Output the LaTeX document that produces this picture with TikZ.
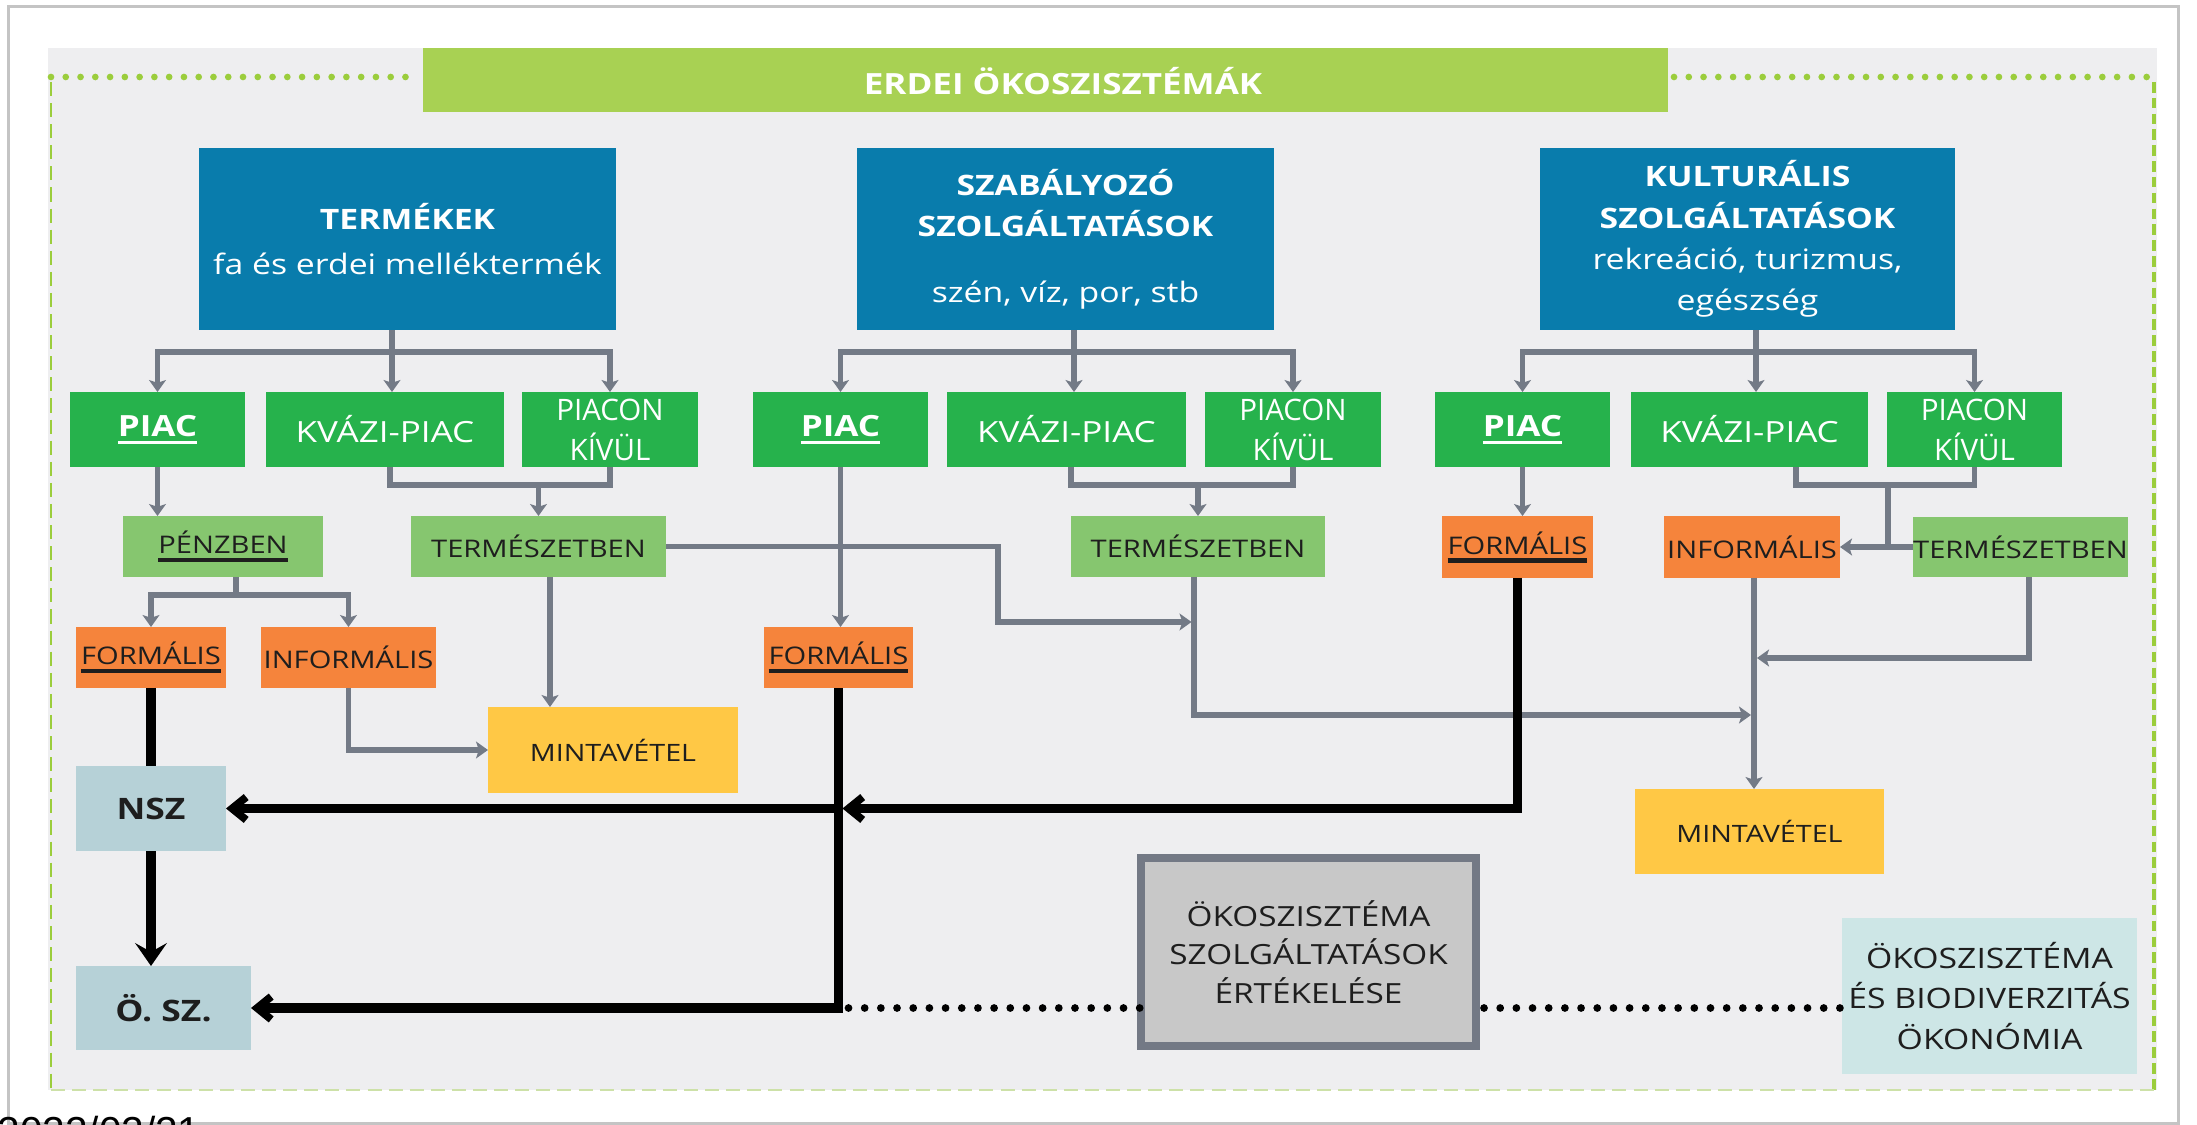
\documentclass[tikz,border=0pt]{standalone}
\usepackage{fontspec}
\setmainfont{Open Sans}[FakeStretch=1.2]
\newfontfamily\narrowfont{Open Sans}
\newfontfamily\datefont{Liberation Sans}
\usetikzlibrary{arrows.meta,calc}
\definecolor{cblue}{HTML}{097CAC}
\definecolor{cgreen}{HTML}{26B24C}
\definecolor{clight}{HTML}{86C66F}
\definecolor{corange}{HTML}{F5843C}
\definecolor{cyellow}{HTML}{FFC845}
\definecolor{cnsz}{HTML}{B6D1D7}
\definecolor{cbio}{HTML}{CDE6E6}
\definecolor{cgbox}{HTML}{C8C8C8}
\definecolor{cgborder}{HTML}{737985}
\definecolor{cline}{HTML}{737A86}
\definecolor{ctitle}{HTML}{A8D153}
\definecolor{cpanel}{HTML}{EEEEF0}
\definecolor{cdot}{HTML}{9BCD3C}
\definecolor{cframe}{HTML}{C4C4C4}
\definecolor{cdark}{HTML}{1E1E1E}
\newcommand\myul[3]{\setbox0\hbox{#3}\leavevmode\rlap{\rule[-#1]{\wd0}{#2}}\box0}
\tikzset{
  bx/.style={inner sep=0pt, outer sep=0pt, align=center},
  sz/.style 2 args={minimum width=#1*0.01cm, minimum height=#2*0.01cm},
  bluebox/.style={bx, fill=cblue, text=white, font=\fontsize{8}{11.7}\selectfont},
  greenbox/.style={bx, fill=cgreen, text=white, font=\fontsize{8.3}{11.4}\selectfont},
  lightbox/.style={bx, fill=clight, text=cdark, font=\fontsize{6.9}{9}\selectfont},
  orangebox/.style={bx, fill=corange, text=cdark, font=\fontsize{6.9}{9}\selectfont},
  yellowbox/.style={bx, fill=cyellow, text=cdark, font=\fontsize{6.8}{9}\selectfont},
  nszbox/.style={bx, fill=cnsz, text=cdark, font=\bfseries\fontsize{8.4}{10}\selectfont},
  greybox/.style={bx, fill=cgbox, draw=cgborder, line width=8*0.01cm, text=cdark, font=\fontsize{7.9}{11}\selectfont},
  biobox/.style={bx, fill=cbio, text=cdark, font=\fontsize{8}{11.4}\selectfont},
  gline/.style={draw=cline, line width=1.5pt},
  garrow/.style={gline, -{Stealth[length=3.4pt,width=4.8pt,inset=0.8pt]}},
  garrowboth/.style={gline, {Stealth[length=3.4pt,width=4.8pt,inset=0.8pt]}-{Stealth[length=3.4pt,width=4.8pt,inset=0.8pt]}},
  bline/.style={draw=black, line width=2.6pt},
  barrow/.style={bline, -{Straight Barb[length=4pt,width=6.5pt,line width=2.2pt]}},
  barrowdown/.style={bline, -{Stealth[length=6.5pt,width=9pt,inset=2.5pt]}},
  bdots/.style={draw=black, line width=2.2pt, line cap=round, dash pattern=on 0pt off 4.6pt},
  gdots/.style={draw=cdot, line width=1.9pt, line cap=round, dash pattern=on 0pt off 4.2pt},
}
\begin{document}
\begin{tikzpicture}[x=0.01cm,y=-0.01cm]
\useasboundingbox (0,0) rectangle (2197,1125);
\clip (0,0) rectangle (2197,1125);
\fill[white] (0,0) rectangle (2197,1125);
\draw[cframe, line width=3*0.01cm] (8,7) rectangle (2178,1123);
\fill[cpanel] (48,48) rectangle (2157,1090);
% border of panel
\draw[gdots] (51,77) -- (418,77);
\draw[gdots] (1674,77) -- (2155,77);
\draw[draw=cdot, line width=2*0.01cm, dash pattern=on 4pt off 2pt] (51,82) -- (51,1090);
\draw[draw=cdot, line width=4*0.01cm, dash pattern=on 3pt off 1.5pt] (2154,82) -- (2154,1090);
\draw[draw=cdot!40!cpanel, line width=1.5*0.01cm, dash pattern=on 4pt off 2pt] (51,1090) -- (2154,1090);
% title
\node[bx, fill=ctitle, sz={1245}{64}] (title) at (1045.5,80) {};
\node[bx, text=white, font=\bfseries\fontsize{8.3}{10}\selectfont] (titletext) at (1063,81) {ERDEI ÖKOSZISZTÉMÁK};
% blue boxes
\node[bluebox, sz={417}{182}, font=\fontsize{8}{13}\selectfont] (termekek) at (407.5,239) {{\bfseries TERMÉKEK}\\fa és erdei melléktermék};
\node[bluebox, sz={417}{182}] (szab) at (1065.5,239) {{\bfseries SZABÁLYOZÓ}\\{\bfseries SZOLGÁLTATÁSOK}\\[7pt]szén, víz, por, stb};
\node[bluebox, sz={415}{182}] (kult) at (1747.5,239) {{\bfseries KULTURÁLIS}\\{\bfseries SZOLGÁLTATÁSOK}\\rekreáció, turizmus,\\egészség};
% green boxes
\node[greenbox, sz={175}{75}] (piac1) at (157.5,429.5) {\bfseries\myul{2.2pt}{0.9pt}{PIAC}};
\node[greenbox, sz={238}{75}] (kvazi1) at (385,429.5) {KVÁZI-PIAC};
\node[greenbox, sz={176}{75}, font=\narrowfont\fontsize{8.4}{11.4}\selectfont] (piacon1) at (610,429.5) {PIACON\\KÍVÜL};
\node[greenbox, sz={175}{75}] (piac2) at (840.5,429.5) {\bfseries\myul{2.2pt}{0.9pt}{PIAC}};
\node[greenbox, sz={239}{75}] (kvazi2) at (1066.5,429.5) {KVÁZI-PIAC};
\node[greenbox, sz={176}{75}, font=\narrowfont\fontsize{8.4}{11.4}\selectfont] (piacon2) at (1293,429.5) {PIACON\\KÍVÜL};
\node[greenbox, sz={175}{75}] (piac3) at (1522.5,429.5) {\bfseries\myul{2.2pt}{0.9pt}{PIAC}};
\node[greenbox, sz={237}{75}] (kvazi3) at (1749.5,429.5) {KVÁZI-PIAC};
\node[greenbox, sz={175}{75}, font=\narrowfont\fontsize{8.4}{11.4}\selectfont] (piacon3) at (1974.5,429.5) {PIACON\\KÍVÜL};
% light green
\node[lightbox, sz={200}{61}] (penzben) at (223,546.5) {\myul{2.4pt}{1.2pt}{PÉNZBEN}};
\node[lightbox, sz={255}{61}] (term1) at (538.5,546.5) {TERMÉSZETBEN};
\node[lightbox, sz={254}{61}] (term2) at (1198,546.5) {TERMÉSZETBEN};
\node[lightbox, sz={215}{60}] (term3) at (2020.5,547) {TERMÉSZETBEN};
% orange
\node[orangebox, sz={150}{61}] (form1) at (151,657.5) {\myul{2.4pt}{1.2pt}{FORMÁLIS}};
\node[orangebox, sz={175}{61}] (inform1) at (348.5,657.5) {INFORMÁLIS};
\node[orangebox, sz={149}{61}] (form2) at (838.5,657.5) {\myul{2.4pt}{1.2pt}{FORMÁLIS}};
\node[orangebox, sz={151}{62}] (form3) at (1517.5,547) {\myul{2.4pt}{1.2pt}{FORMÁLIS}};
\node[orangebox, sz={176}{62}] (inform3) at (1752,547) {INFORMÁLIS};
% yellow
\node[yellowbox, sz={250}{86}] (minta1) at (613,750) {MINTAVÉTEL};
\node[yellowbox, sz={249}{85}] (minta2) at (1759.5,831.5) {MINTAVÉTEL};
% nsz, osz
\node[nszbox, sz={150}{85}] (nsz) at (151,808.5) {NSZ};
\node[nszbox, sz={175}{84}] (osz) at (163.5,1008) {Ö. SZ.};
% grey + bio
\node[greybox, sz={335}{188}] (ertek) at (1308.5,952) {ÖKOSZISZTÉMA\\SZOLGÁLTATÁSOK\\ÉRTÉKELÉSE};
\node[biobox, sz={295}{156}] (bio) at (1989.5,996) {ÖKOSZISZTÉMA\\ÉS BIODIVERZITÁS\\ÖKONÓMIA};
% date
\node[bx, anchor=north west, font=\datefont\fontsize{11.5}{12}\selectfont, text=black] (date) at (-2,1116) {2022/02/21};
% ---- top splits
\coordinate (s1) at (392,352);
\coordinate (s2) at (1074,352);
\coordinate (s3) at (1756,352);
\draw[gline] (termekek.south -| s1) -- (s1);
\draw[garrowboth] (piac1.north) -- (s1 -| piac1) -- (s1 -| piacon1) -- (piacon1.north);
\draw[garrow] (s1) -- (s1 |- kvazi1.north);
\draw[gline] (szab.south -| s2) -- (s2);
\draw[garrowboth] (piac2.north) -- (s2 -| piac2) -- (s2 -| piacon2) -- (piacon2.north);
\draw[garrow] (s2) -- (s2 |- kvazi2.north);
\draw[gline] (kult.south -| s3) -- (s3);
\draw[garrowboth] (piac3.north) -- (s3 -| piac3) -- (s3 -| piacon3) -- (piacon3.north);
\draw[garrow] (s3) -- (s3 |- kvazi3.north);
% ---- joins
\coordinate (j1) at (390,485);
\coordinate (j2) at (1071,485);
\coordinate (j3) at (1796,485);
\coordinate (j3m) at (1888,485);
\draw[gline] (kvazi1.south -| j1) -- (j1) -- (j1 -| piacon1) -- (piacon1.south);
\draw[garrow] (j1 -| term1) -- (term1.north);
\draw[gline] (kvazi2.south -| j2) -- (j2) -- (j2 -| piacon2) -- (piacon2.south);
\draw[garrow] (j2 -| term2) -- (term2.north);
\draw[gline] (kvazi3.south -| j3) -- (j3) -- (j3 -| piacon3) -- (piacon3.south);
\draw[gline] (j3m) -- (j3m |- term3.west);
\draw[garrow] (term3.west) -- (inform3.east);
% ---- left column
\draw[garrow] (piac1.south) -- (penzben.north -| piac1);
\coordinate (jp) at (236,595);
\draw[gline] (penzben.south -| jp) -- (jp);
\draw[garrowboth] (form1.north) -- (jp -| form1) -- (jp -| inform1) -- (inform1.north);
\coordinate (v1) at (550,650);
\draw[garrow] (term1.south -| v1) -- (minta1.north -| v1);
\draw[garrow] (inform1.south) |- (minta1.west);
% ---- crossing lines
\coordinate (b1) at (998,622);
\coordinate (t2d) at (1194,715);
\coordinate (v3) at (1754,700);
\coordinate (t3d) at (2029,658);
\draw[garrow, shorten >=2.5*0.01cm] (term1.east) -| (b1) -- (b1 -| t2d);
\draw[garrow, shorten >=3*0.01cm] (term2.south -| t2d) -- (t2d) -- (t2d -| v3);
\draw[garrow, shorten >=3*0.01cm] (term3.south -| t3d) -- (t3d) -- (t3d -| v3);
\draw[garrow] (inform3.south -| v3) -- (minta2.north -| v3);
\draw[garrow] (piac2.south) -- (form2.north -| piac2);
\draw[garrow] (piac3.south) -- (form3.north -| piac3);
% ---- black lines
\coordinate (cr) at (form2.south |- nsz.east);
\draw[bline] (form1.south) -- (nsz.north);
\draw[barrowdown] (nsz.south) -- (osz.north -| nsz);
\draw[barrow, shorten >=4*0.01cm] (form3.south) |- (cr);
\draw[barrow] (cr) -- (nsz.east);
\draw[barrow] (form2.south) |- (osz.east);
\draw[bdots] ($(form2.south |- osz.east)+(10,0)$) -- (ertek.west |- osz.east);
\draw[bdots] ($(ertek.east |- osz.east)+(8,0)$) -- (bio.west |- osz.east);
\end{tikzpicture}
\end{document}
